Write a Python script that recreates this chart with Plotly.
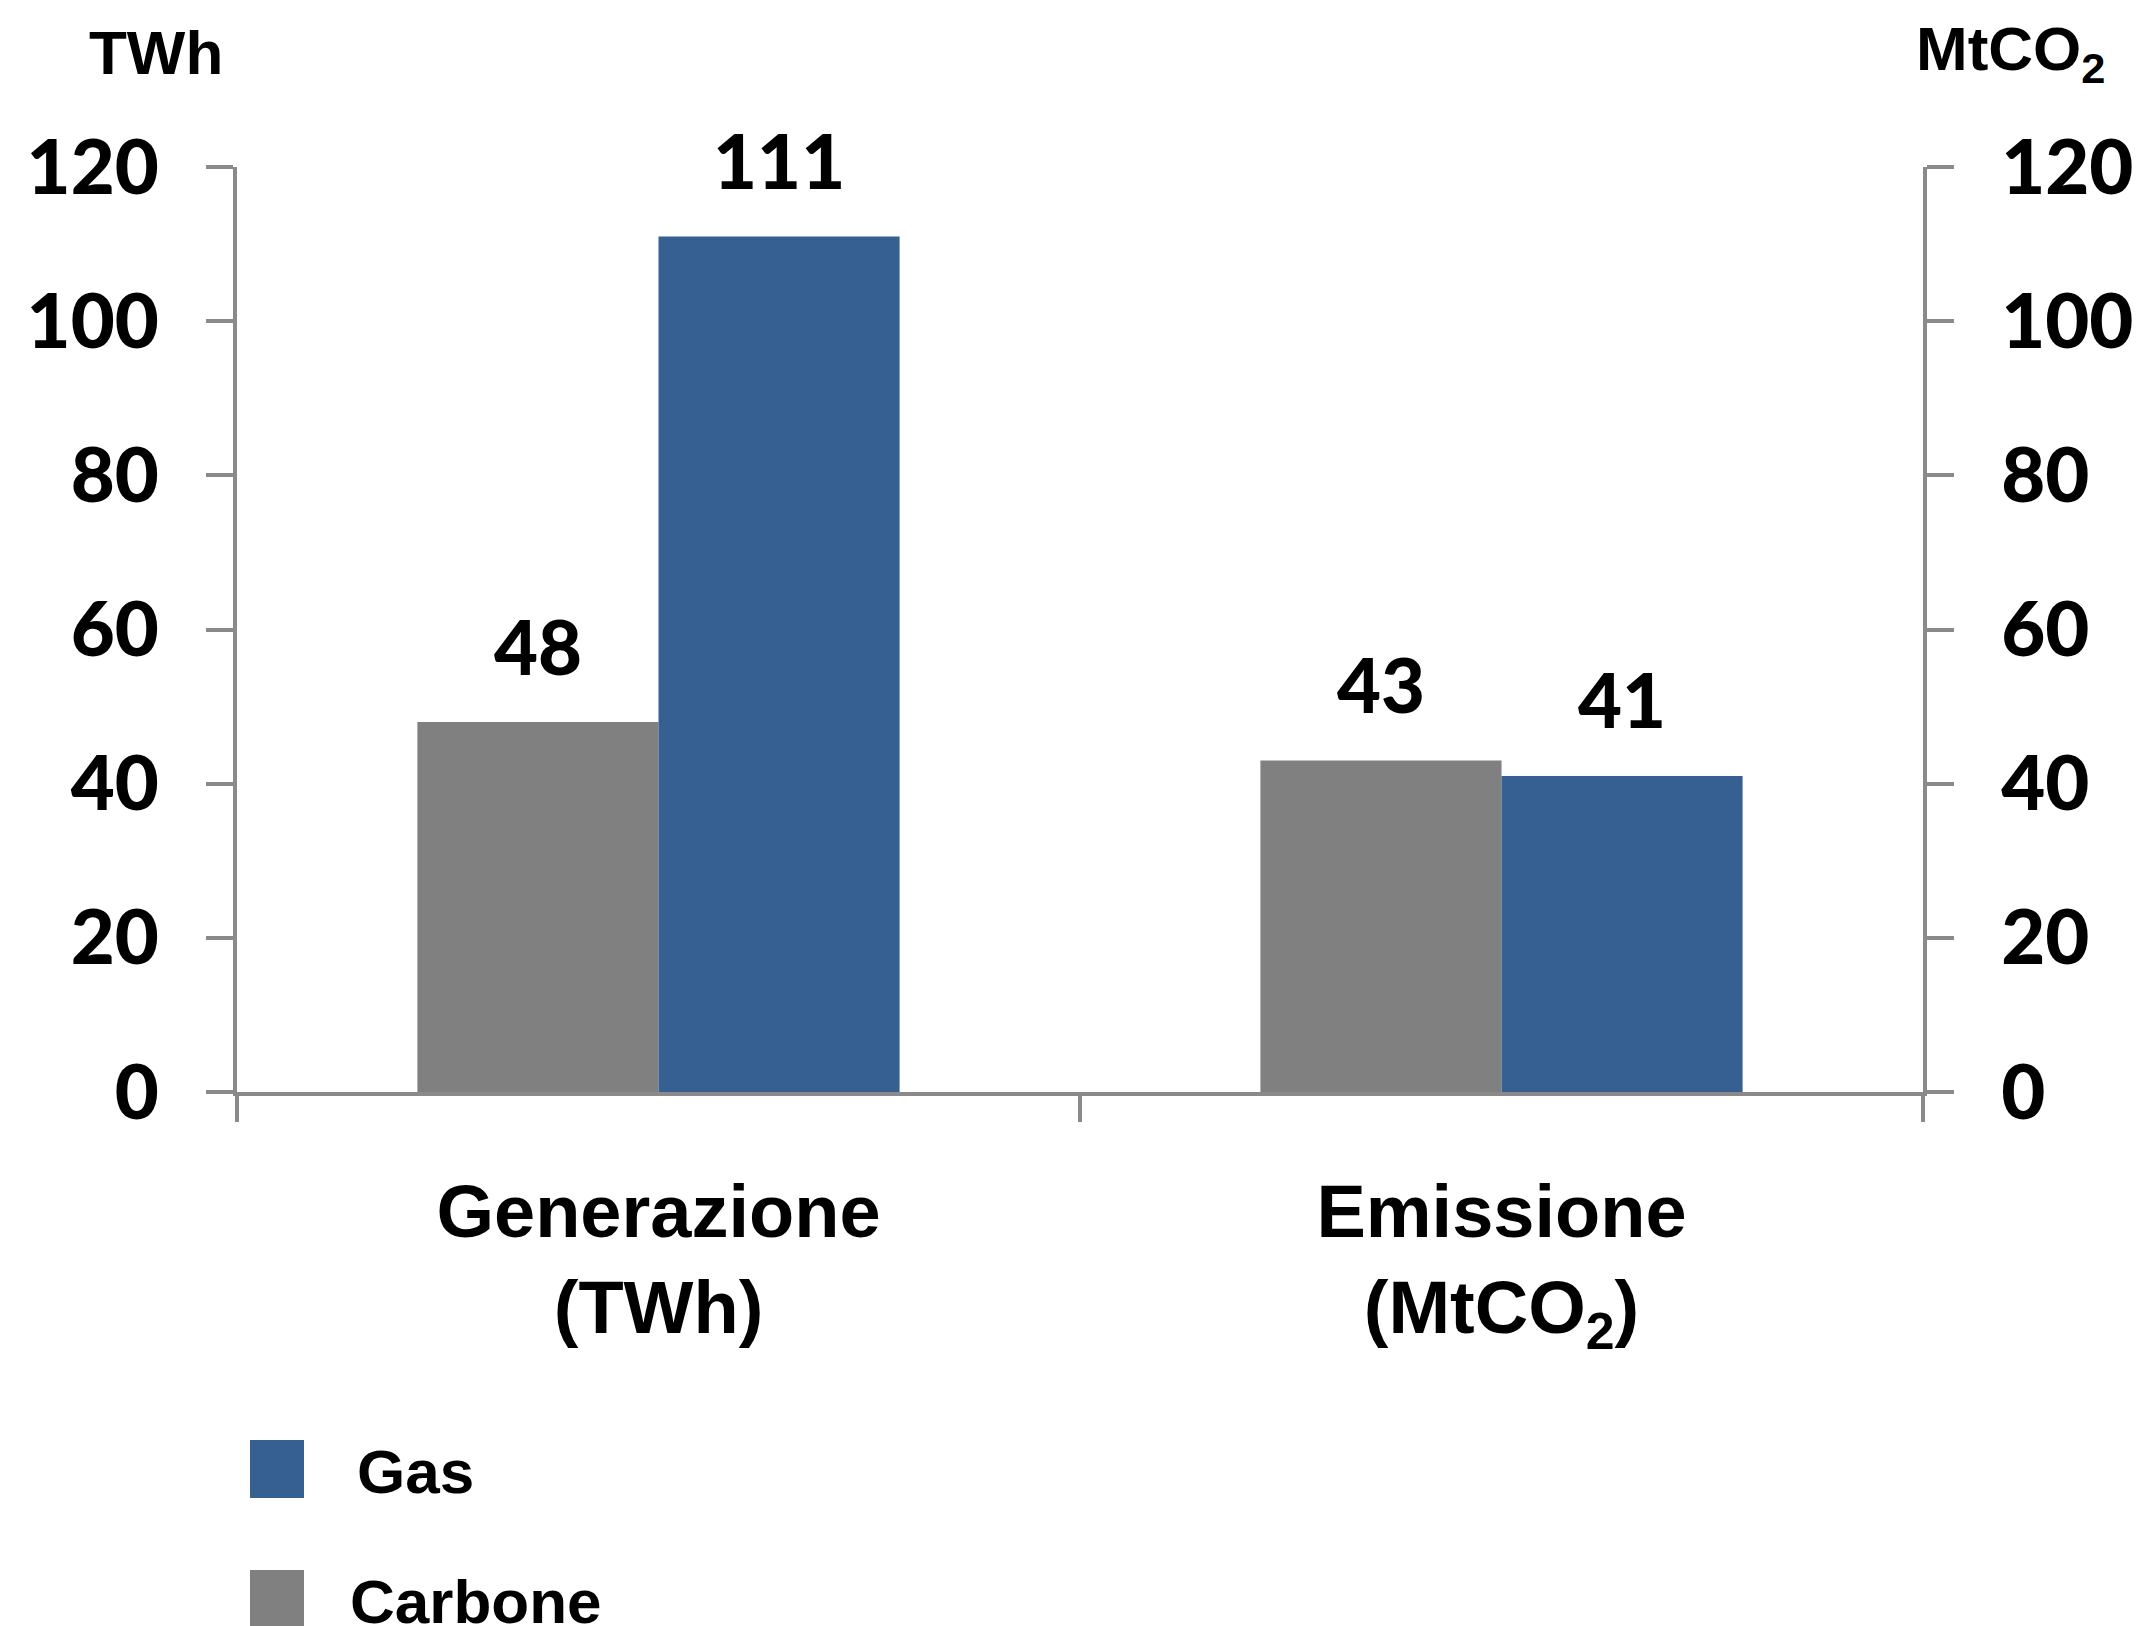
import plotly.graph_objects as go

# Categories and series values
categories = ["Generazione<br>(TWh)", "Emissione<br>(MtCO<sub>2</sub>)"]
carbone = [48, 43]
gas = [111, 41]
y_ticks = [0, 20, 40, 60, 80, 100, 120]

GAS_COLOR = "#376092"
CARBONE_COLOR = "#808080"
AXIS_COLOR = "#8a8a8a"
NUM_FONT = dict(family="Lato", size=76, color="black", weight=900)
TXT_FONT = dict(family="Liberation Sans", size=74, color="black", weight="bold")

BARGAP = 0.428
BAR_OFFSET = (1 - BARGAP) / 4  # centre of each bar within its group

fig = go.Figure()
fig.add_trace(go.Bar(x=categories, y=carbone, name="Carbone",
                     marker=dict(color=CARBONE_COLOR, line=dict(width=0))))
fig.add_trace(go.Bar(x=categories, y=gas, name="Gas",
                     marker=dict(color=GAS_COLOR, line=dict(width=0))))
# invisible trace to carry the right-hand axis
fig.add_trace(go.Scatter(x=categories, y=[None, None], yaxis="y2",
                         showlegend=False, hoverinfo="skip"))

# value labels above each bar
for i, cat in enumerate(categories):
    for val, off in ((carbone[i], -BAR_OFFSET), (gas[i], BAR_OFFSET)):
        fig.add_annotation(x=i + off, y=val, xref="x", yref="y", text=str(val),
                           showarrow=False, yanchor="middle", yshift=77,
                           font=NUM_FONT)

W, H = 2141, 1626
L, R, T, B = 237, 218, 167, 534
pw, ph = W - L - R, H - T - B


def px_x(p):
    return (p - L) / pw


def px_y(p):
    return (H - B - p) / ph


# axis unit labels
fig.add_annotation(x=px_x(87), y=px_y(53), xref="paper", yref="paper", text="TWh",
                   showarrow=False, xanchor="left", yanchor="middle",
                   font=dict(family="Liberation Sans", size=62, color="black", weight="bold"))
fig.add_annotation(x=px_x(1914), y=px_y(53), xref="paper", yref="paper",
                   text="MtCO<sub>2</sub>", showarrow=False, xanchor="left", yanchor="middle",
                   font=dict(family="Liberation Sans", size=62, color="black", weight="bold"))

# legend: Gas above Carbone
legend_items = [("Gas", GAS_COLOR, 1440, 355), ("Carbone", CARBONE_COLOR, 1570, 348)]
for name, color, top, tx in legend_items:
    fig.add_shape(type="rect", xref="paper", yref="paper",
                  x0=px_x(250), x1=px_x(304), y0=px_y(top), y1=px_y(top + 58),
                  fillcolor=color, line=dict(width=0))
    fig.add_annotation(x=px_x(tx), y=px_y(top + 31), xref="paper", yref="paper",
                       text=name, showarrow=False, xanchor="left", yanchor="middle",
                       font=dict(family="Liberation Sans", size=62, color="black", weight="bold"))

axis_common = dict(range=[0, 120], tickvals=y_ticks, ticks="outside", ticklen=27,
                   tickwidth=4, tickcolor=AXIS_COLOR, showline=True, linewidth=4,
                   linecolor=AXIS_COLOR, showgrid=False, zeroline=False,
                   tickfont=NUM_FONT, ticklabelstandoff=32, fixedrange=True)

fig.update_layout(
    width=W, height=H,
    margin=dict(l=L, r=R, t=T, b=B, autoexpand=False),
    paper_bgcolor="white", plot_bgcolor="white",
    barmode="group", bargap=BARGAP, bargroupgap=0,
    showlegend=False,
    xaxis=dict(type="category", tickson="boundaries", ticks="outside", ticklen=26,
               tickwidth=4, tickcolor=AXIS_COLOR, showline=True, linewidth=4,
               linecolor=AXIS_COLOR, showgrid=False, tickfont=TXT_FONT,
               ticklabelstandoff=52, range=[-0.5, 1.5]),
    yaxis=dict(side="left", **axis_common),
    yaxis2=dict(side="right", overlaying="y", **axis_common),
)

fig.write_html("out.html")
